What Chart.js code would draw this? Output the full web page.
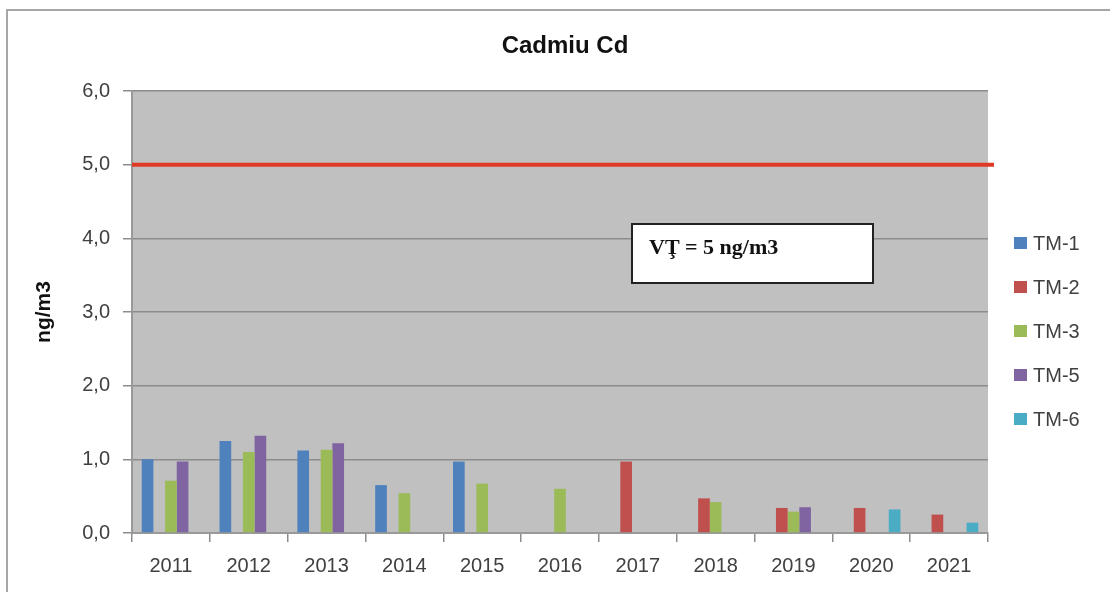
<!DOCTYPE html>
<html>
<head>
<meta charset="utf-8">
<script src="https://cdn.jsdelivr.net/npm/chart.js@4.4.1/dist/chart.umd.min.js"></script>
<style>
  html, body { margin: 0; padding: 0; background: #fff; }
  #wrap { width: 1110px; height: 592px; position: relative; }
</style>
</head>
<body>
<div id="wrap"><canvas id="cdChart" width="1110" height="592"></canvas></div>
<script>
// --- DATA ---
const YEARS = ['2011', '2012', '2013', '2014', '2015', '2016', '2017', '2018', '2019', '2020', '2021'];
const TM1 = [1.00, 1.25, 1.12, 0.65, 0.97, null, null, null, null, null, null];
const TM2 = [null, null, null, null, null, null, 0.97, 0.47, 0.34, 0.34, 0.25];
const TM3 = [0.71, 1.10, 1.13, 0.54, 0.67, 0.60, null, 0.42, 0.29, null, null];
const TM5 = [0.97, 1.32, 1.22, null, null, null, null, null, 0.35, null, null];
const TM6 = [null, null, null, null, null, null, null, null, null, 0.32, 0.14];
const SERIES_NAMES = ['TM-1', 'TM-2', 'TM-3', 'TM-5', 'TM-6'];
const Y_TICKS = [0, 1, 2, 3, 4, 5, 6];
const LIMIT_VALUE = 5;
const LIMIT_LABEL = 'VŢ = 5 ng/m3';
const CHART_TITLE = 'Cadmiu Cd';
const Y_TITLE = 'ng/m3';

const COLORS = ['#4F81BD', '#C0504D', '#9BBB59', '#8064A2', '#4BACC6'];

// --- PLUGINS ---
const plotBackground = {
  id: 'plotBackground',
  beforeDraw(chart) {
    const { ctx, chartArea: a } = chart;
    ctx.save();
    ctx.fillStyle = '#fff';
    ctx.fillRect(0, 0, chart.width, chart.height);
    ctx.fillStyle = '#C0C0C0';
    ctx.fillRect(a.left, a.top, a.right - a.left, a.bottom - a.top);
    // outer frame
    ctx.strokeStyle = '#a6a6a6';
    ctx.lineWidth = 2;
    ctx.beginPath();
    ctx.moveTo(7, chart.height);
    ctx.lineTo(7, 10);
    ctx.lineTo(chart.width, 10);
    ctx.stroke();
    ctx.restore();
  }
};

const extras = {
  id: 'extras',
  afterDraw(chart) {
    const { ctx, chartArea: a, scales } = chart;
    ctx.save();

    // limit line
    const yLim = scales.y.getPixelForValue(LIMIT_VALUE);
    ctx.strokeStyle = '#E03A26';
    ctx.lineWidth = 4;
    ctx.beginPath();
    ctx.moveTo(a.left, yLim);
    ctx.lineTo(a.right + 6, yLim);
    ctx.stroke();

    // label box
    const bx = a.left + 500, by = a.top + 133, bw = 241, bh = 59;
    ctx.fillStyle = '#fff';
    ctx.fillRect(bx, by, bw, bh);
    ctx.strokeStyle = '#222';
    ctx.lineWidth = 2;
    ctx.strokeRect(bx, by, bw, bh);
    ctx.fillStyle = '#111';
    ctx.font = 'bold 22px "Liberation Serif", "Times New Roman", serif';
    ctx.textBaseline = 'middle';
    ctx.textAlign = 'left';
    ctx.fillText(LIMIT_LABEL, bx + 17, by + 24);

    // title
    ctx.fillStyle = '#111';
    ctx.font = 'bold 24px "Liberation Sans", Arial, sans-serif';
    ctx.textAlign = 'center';
    ctx.fillText(CHART_TITLE, 565, 46);

    // legend
    ctx.font = '20px "Liberation Sans", Arial, sans-serif';
    ctx.textAlign = 'left';
    chart.data.datasets.forEach((ds, i) => {
      const y = 243 + i * 44;
      ctx.fillStyle = ds.backgroundColor;
      ctx.fillRect(1014, y - 6, 13, 12);
      ctx.fillStyle = '#404040';
      ctx.fillText(ds.label, 1033, y + 1);
    });

    ctx.restore();
  }
};

// --- CHART ---
const datasets = [TM1, TM2, TM3, TM5, TM6].map((vals, i) => ({
  label: SERIES_NAMES[i],
  data: vals,
  backgroundColor: COLORS[i],
  borderWidth: 0,
  categoryPercentage: 0.75,
  barPercentage: 1.0
}));

new Chart(document.getElementById('cdChart'), {
  type: 'bar',
  data: { labels: YEARS, datasets: datasets },
  options: {
    responsive: false,
    animation: false,
    layout: { padding: { left: 0, right: 122, top: 91, bottom: 0 } },
    plugins: {
      legend: { display: false },
      title: { display: false },
      tooltip: { enabled: false }
    },
    scales: {
      x: {
        afterFit(scale) { scale.height = 59; },
        grid: { drawOnChartArea: false, drawTicks: true, tickLength: 9, color: '#8c8c8c', lineWidth: 1.5, offset: true },
        border: { color: '#999', width: 2 },
        ticks: {
          padding: 12,
          color: '#404040',
          font: { family: '"Liberation Sans", Arial, sans-serif', size: 20 }
        }
      },
      y: {
        min: 0,
        max: 6,
        afterFit(scale) { scale.width = 132; },
        afterBuildTicks(scale) { scale.ticks = Y_TICKS.map(v => ({ value: v })); },
        grid: { color: '#8c8c8c', lineWidth: 1.5, tickLength: 9 },
        border: { color: '#999', width: 2 },
        ticks: {
          padding: 13,
          color: '#404040',
          font: { family: '"Liberation Sans", Arial, sans-serif', size: 20 },
          callback: v => v.toFixed(1).replace('.', ',')
        },
        title: {
          display: true,
          text: Y_TITLE,
          color: '#111',
          padding: { top: 32, bottom: 0 },
          font: { family: '"Liberation Sans", Arial, sans-serif', size: 21, weight: 'bold' }
        }
      }
    }
  },
  plugins: [plotBackground, extras]
});
</script>
</body>
</html>
